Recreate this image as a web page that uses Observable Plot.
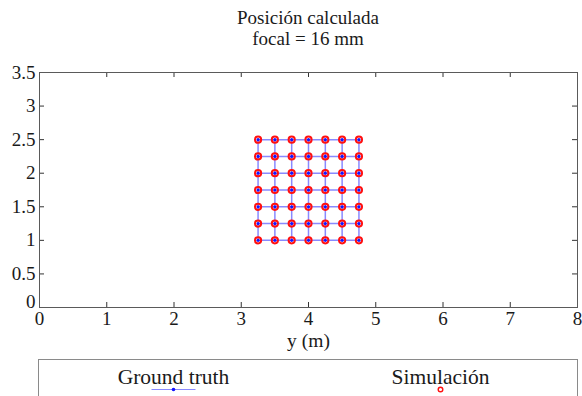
<!DOCTYPE html>
<html>
<head>
<meta charset="utf-8">
<script src="https://cdn.jsdelivr.net/npm/d3@7"></script>
<script src="https://cdn.jsdelivr.net/npm/@observablehq/plot@0.6"></script>
<style>
  html, body { margin: 0; padding: 0; background: #fff; }
  #wrap { position: relative; width: 582px; height: 396px; overflow: hidden; font-family: 'Liberation Serif', serif; color: #1a1a1a; }
  #title, #chart, #legend { position: absolute; left: 0; }
  #title { top: 0; }
  #chart { top: 60px; }
  #legend { top: 356px; }
  svg text { font-family: 'Liberation Serif', serif; }
</style>
</head>
<body>
<div id="wrap">
  <div id="title"></div>
  <div id="chart"></div>
  <div id="legend"></div>
</div>
<script>
// Calibration grid positions (metres): horizontal coordinate y, vertical coordinate z
const gridY = [3.25, 3.5, 3.75, 4, 4.25, 4.5, 4.75];
const gridZ = [1, 1.25, 1.5, 1.75, 2, 2.25, 2.5];

// Positions returned by the simulation (coincide with the grid at this scale)
const simY = [3.25, 3.5, 3.75, 4, 4.25, 4.5, 4.75];
const simZ = [1, 1.25, 1.5, 1.75, 2, 2.25, 2.5];

// Axis ticks
const xTicks = [0, 1, 2, 3, 4, 5, 6, 7, 8];
const yTicks = [0, 0.5, 1, 1.5, 2, 2.5, 3, 3.5];
const yTickLabels = ["0", "0.5", "1", "1.5", "2", "2.5", "3", "3.5"];

const titleLines = ["Posición calculada", "focal = 16 mm"];
const xLabel = "y (m)";
const seriesNames = ["Ground truth", "Simulación"];

const serif = "'Liberation Serif', serif";
const lineColor = "#3b3bff";
const dotColor = "#1414ff";
const simColor = "#ff1010";

// Build point tables from the arrays
const truth = [];
for (const z of gridZ) for (const y of gridY) truth.push({y, z});
const sim = [];
for (const z of simZ) for (const y of simY) sim.push({y, z});

const W = 582, H = 298;
const mL = 39, mR = 5, mT = 12, mB = 51;
const fw = W - mL - mR, fh = H - mT - mB;
const tick = 5;
const yLabel = d => yTickLabels[yTicks.indexOf(d)];

const chart = Plot.plot({
  width: W,
  height: H,
  marginLeft: mL,
  marginRight: mR,
  marginTop: mT,
  marginBottom: mB,
  style: {fontFamily: serif, fontSize: "19px", color: "#1a1a1a", background: "#fff", overflow: "visible"},
  x: {domain: [0, 8]},
  y: {domain: [0, 3.5]},
  marks: [
    // ground truth mesh: rows and columns
    Plot.line(truth, {x: "y", y: "z", z: "z", stroke: lineColor, strokeWidth: 1.5, strokeOpacity: 0.6}),
    Plot.line(truth, {x: "y", y: "z", z: "y", stroke: lineColor, strokeWidth: 1.5, strokeOpacity: 0.6}),
    // simulated positions (hollow red circles)
    Plot.dot(sim, {x: "y", y: "z", r: 3.1, stroke: simColor, strokeWidth: 2, fill: "none"}),
    // ground truth markers
    Plot.dot(truth, {x: "y", y: "z", r: 1.6, fill: dotColor}),
    // inward ticks on all four sides
    Plot.ruleX(xTicks, {x: d => d, insetTop: fh - tick, stroke: "#333"}),
    Plot.ruleX(xTicks, {x: d => d, insetBottom: fh - tick, stroke: "#333"}),
    Plot.ruleY(yTicks, {y: d => d, insetRight: fw - tick, stroke: "#333"}),
    Plot.ruleY(yTicks, {y: d => d, insetLeft: fw - tick, stroke: "#333"}),
    Plot.frame({stroke: "#5a5a5a"}),
    Plot.axisX(xTicks, {tickSize: 0, tickPadding: 4, label: null, fontSize: 19, fontFamily: serif}),
    // the zero label sits a little above its tick
    Plot.axisY(yTicks.filter(d => d !== 0), {tickSize: 0, tickPadding: 4, label: null, fontSize: 19, fontFamily: serif, tickFormat: yLabel}),
    Plot.axisY([0], {tickSize: 0, tickPadding: 4, label: null, fontSize: 19, fontFamily: serif, tickFormat: yLabel, dy: -6}),
    Plot.text([xLabel], {frameAnchor: "bottom", dy: 33, fontSize: 19.5, fontFamily: serif, lineAnchor: "middle"})
  ]
});
document.getElementById("chart").append(chart);

// Title above the plot
const tsvg = d3.select("#title").append("svg").attr("width", W).attr("height", 60);
tsvg.selectAll("text").data(titleLines).join("text")
  .attr("x", mL + fw / 2)
  .attr("y", (d, i) => 24 + i * 21)
  .attr("text-anchor", "middle")
  .style("font-family", serif)
  .attr("font-size", 19)
  .attr("fill", "#1a1a1a")
  .text(d => d);

// Legend box below the plot
const lsvg = d3.select("#legend").append("svg").attr("width", W).attr("height", 60);
lsvg.append("rect").attr("x", 38.5).attr("y", 3.5).attr("width", 539).attr("height", 60)
  .attr("fill", "#fff").attr("stroke", "#8a8a8a");
const legendX = [173.5, 440.5];
lsvg.selectAll("text").data(seriesNames).join("text")
  .attr("x", (d, i) => legendX[i])
  .attr("y", 28)
  .attr("text-anchor", "middle")
  .style("font-family", serif)
  .attr("font-size", 21.5)
  .attr("fill", "#1a1a1a")
  .text(d => d);
lsvg.append("line").attr("x1", legendX[0] - 22).attr("x2", legendX[0] + 22)
  .attr("y1", 33.5).attr("y2", 33.5).attr("stroke", lineColor).attr("stroke-opacity", 0.6);
lsvg.append("circle").attr("cx", legendX[0]).attr("cy", 33.5).attr("r", 1.8).attr("fill", dotColor);
lsvg.append("circle").attr("cx", legendX[1]).attr("cy", 33.5).attr("r", 2.3)
  .attr("fill", "#fff").attr("stroke", simColor).attr("stroke-width", 1.4);
</script>
</body>
</html>
